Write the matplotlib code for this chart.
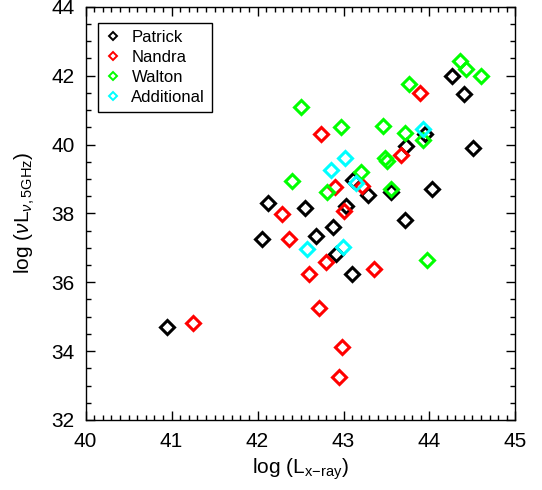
import matplotlib
matplotlib.use('Agg')
import matplotlib.pyplot as plt
from matplotlib.lines import Line2D
from matplotlib.ticker import MultipleLocator

plt.rcParams['font.family'] = ['Liberation Sans', 'DejaVu Sans']
plt.rcParams['mathtext.fontset'] = 'custom'
plt.rcParams['mathtext.rm'] = 'Liberation Sans'
plt.rcParams['mathtext.it'] = 'Liberation Sans:italic'

# log L_x-ray, log nu L_nu(5GHz)
patrick_x = [40.95, 42.12, 42.05, 42.55, 42.68, 42.88, 42.91, 43.10, 43.03, 43.11,
             43.28, 43.55, 43.72, 44.03, 43.73, 43.95, 44.26, 44.40, 44.51]
patrick_y = [34.71, 38.30, 37.26, 38.15, 37.35, 37.60, 36.81, 36.24, 38.22, 38.97,
             38.52, 38.63, 37.80, 38.71, 39.96, 40.30, 41.98, 41.47, 39.89]

nandra_x = [41.25, 42.29, 42.37, 42.60, 42.80, 42.72, 42.98, 42.95, 43.00, 42.90,
            43.21, 43.35, 43.67, 43.89, 42.74]
nandra_y = [34.83, 37.99, 37.26, 36.24, 36.59, 35.25, 34.11, 33.26, 38.08, 38.78,
            38.80, 36.38, 39.70, 41.49, 40.30]

walton_x = [42.51, 42.40, 42.81, 42.97, 43.20, 43.46, 43.48, 43.50, 43.55, 43.71,
            43.76, 43.92, 43.97, 44.35, 44.42, 44.60]
walton_y = [41.10, 38.95, 38.62, 40.50, 39.21, 40.54, 39.61, 39.53, 38.70, 40.35,
            41.76, 40.14, 36.65, 42.44, 42.19, 42.00]

extra_x = [42.57, 42.99, 42.86, 43.02, 43.14, 43.93]
extra_y = [36.98, 37.01, 39.26, 39.60, 38.88, 40.45]

names = ['Patrick', 'Nandra', 'Walton', 'Additional']
colors = ['black', '#ff0000', '#00ff00', '#00ffff']

fig = plt.figure(figsize=(5.42, 4.90), dpi=100)
ax = fig.add_axes([0.158, 0.143, 0.793, 0.843])

sets = [(patrick_x, patrick_y), (nandra_x, nandra_y), (walton_x, walton_y), (extra_x, extra_y)]
for (xs, ys), c in zip(sets, colors):
    ax.plot(xs, ys, linestyle='none', marker='D', markersize=7,
            markerfacecolor='none', markeredgecolor=c, markeredgewidth=2.2)

ax.set_xlim(40, 45)
ax.set_ylim(32, 44)
ax.xaxis.set_major_locator(MultipleLocator(1))
ax.xaxis.set_minor_locator(MultipleLocator(0.1))
ax.yaxis.set_major_locator(MultipleLocator(2))
ax.yaxis.set_minor_locator(MultipleLocator(0.5))
ax.tick_params(which='both', direction='in', top=True, right=True, labelsize=15)
ax.tick_params(axis='x', which='major', pad=9)
ax.tick_params(axis='y', which='major', pad=8)
ax.tick_params(which='major', length=6.5, width=1)
ax.tick_params(which='minor', length=3.5, width=1)
for s in ax.spines.values():
    s.set_linewidth(1)

ax.set_xlabel(r'log (L$_{\mathrm{x{-}ray}}$)', fontsize=15, labelpad=4)
ax.set_ylabel(r'log ($\nu$L$_{\nu\mathrm{,5GHz}}$)', fontsize=15, labelpad=10)

handles = [Line2D([], [], linestyle='none', marker='D', markersize=4.5,
                  markerfacecolor='none', markeredgecolor=c, markeredgewidth=1.4)
           for c in colors]
leg = ax.legend(handles, names, loc='upper left', fontsize=12, fancybox=False,
                framealpha=1, edgecolor='black', handlelength=1.0,
                handletextpad=0.6, borderpad=0.4, labelspacing=0.3,
                borderaxespad=0, bbox_to_anchor=(0.029, 0.96))
leg.get_frame().set_linewidth(1)

fig.savefig('out.png', dpi=100)
